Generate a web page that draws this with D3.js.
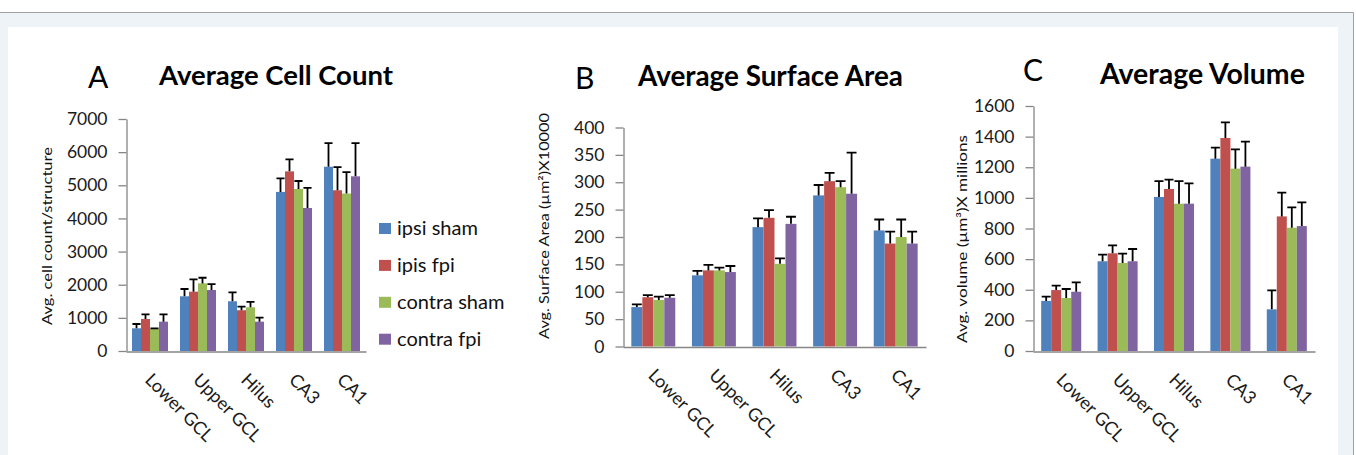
<!DOCTYPE html>
<html><head><meta charset="utf-8">
<script src="https://cdn.jsdelivr.net/npm/d3@7"></script>
<style>
html,body{margin:0;padding:0;background:#fff;overflow:hidden;}
svg{display:block;font-family:Lato,"Open Sans",sans-serif;}
</style></head><body>
<svg id="chart" width="1356" height="455"></svg>
<script>
// ---------------- data ----------------
const categories = ["Lower GCL", "Upper GCL", "Hilus", "CA3", "CA1"];
const seriesNames = ["ipsi sham", "ipis fpi", "contra sham", "contra fpi"];
const seriesColors = ["#4f81bd", "#c0504d", "#9bbb59", "#8064a2"];

// Panel A: average cell count (one array per series, across categories)
const cellMeans = [
  [685, 1650, 1500, 4800, 5560],   // ipsi sham
  [965, 1790, 1230, 5420, 4850],   // ipis fpi
  [665, 2040, 1320, 4890, 4750],   // contra sham
  [885, 1840, 885, 4315, 5270]     // contra fpi
];
const cellErrors = [
  [130, 220, 270, 410, 710],
  [140, 370, 110, 360, 700],
  [15, 170, 160, 240, 650],
  [220, 180, 120, 605, 1000]
];
const cellTicks = [0, 1000, 2000, 3000, 4000, 5000, 6000, 7000];

// Panel B: average surface area
const areaMeans = [
  [72, 130, 218, 276, 212],
  [90, 139, 235, 302, 188],
  [85, 139, 151, 291, 200],
  [89, 136, 224, 279, 188]
];
const areaErrors = [
  [5, 8, 16, 19, 20],
  [4, 10, 14, 15, 22],
  [6, 5, 10, 11, 32],
  [5, 11, 13, 75, 22]
];
const areaTicks = [0, 50, 100, 150, 200, 250, 300, 350, 400];

// Panel C: average volume
const volMeans = [
  [327, 586, 1006, 1256, 272],
  [398, 638, 1058, 1391, 879],
  [346, 575, 962, 1191, 805],
  [387, 586, 962, 1204, 816]
];
const volErrors = [
  [28, 43, 104, 72, 124],
  [29, 52, 61, 102, 155],
  [59, 61, 148, 126, 133],
  [61, 80, 133, 163, 155]
];
const volTicks = [0, 200, 400, 600, 800, 1000, 1200, 1400, 1600];

// ---------------- layout ----------------
const panels = [
  { means: cellMeans, errors: cellErrors, ticks: cellTicks,
    title: "Average Cell Count", letter: "A",
    left: 126, right: 366, bottom: 351, top: 119, pad: 0.25,
    titleX: 159, titleY: 85, titleW: 234,
    letterX: 88, letterY: 88,
    yLabel: "Avg. cell count/structure", yLabelX: 47, yLabelY: 236, yLabelLen: 178 },
  { means: areaMeans, errors: areaErrors, ticks: areaTicks,
    title: "Average Surface Area", letter: "B",
    left: 623, right: 926, bottom: 346.5, top: 127.5, pad: 0.275,
    titleX: 638, titleY: 86, titleW: 265,
    letterX: 575, letterY: 89,
    yLabel: "Avg. Surface Area (\u00B5m\u00B2)X10000", yLabelX: 544, yLabelY: 226, yLabelLen: 226 },
  { means: volMeans, errors: volErrors, ticks: volTicks,
    title: "Average Volume", letter: "C",
    left: 1033, right: 1315, bottom: 351, top: 106, pad: 0.29,
    titleX: 1100, titleY: 84, titleW: 205,
    letterX: 1023, letterY: 81,
    yLabel: "Avg. volume (\u00B5m\u00B3)X millions", yLabelX: 962, yLabelY: 239, yLabelLen: 208 }
];

const svg = d3.select("#chart");

// frame / background
svg.append("rect").attr("x", 0).attr("y", 12.5).attr("width", 1353).attr("height", 443).attr("fill", "#eef3f7");
svg.append("rect").attr("x", 8).attr("y", 27).attr("width", 1330).attr("height", 430).attr("fill", "#ffffff");
svg.append("path").attr("d", "M0,12.5H1353.5V455").attr("fill", "none").attr("stroke", "#a0a0a0").attr("stroke-width", 1);

function fitWidth(sel, target) {
  const fs = parseFloat(sel.attr("font-size"));
  const w = sel.node().getComputedTextLength();
  if (w > 0) sel.attr("font-size", (fs * target / w).toFixed(2));
}

panels.forEach(p => {
  const g = svg.append("g");
  const x = d3.scaleBand().domain(categories).range([p.left, p.right])
    .paddingInner(p.pad).paddingOuter(p.pad / 2);
  const xs = d3.scaleBand().domain(d3.range(seriesNames.length)).range([0, x.bandwidth()]);
  const maxV = d3.max(p.ticks);
  const y = d3.scaleLinear().domain([0, maxV]).range([p.bottom, p.top]);

  // bars
  seriesNames.forEach((s, si) => {
    const sg = g.append("g");
    sg.selectAll("rect").data(categories).join("rect")
      .attr("x", c => x(c) + xs(si))
      .attr("y", (c, ci) => y(p.means[si][ci]))
      .attr("width", xs.bandwidth())
      .attr("height", (c, ci) => y(0) - y(p.means[si][ci]))
      .attr("fill", seriesColors[si]);
  });
  // error bars
  seriesNames.forEach((s, si) => {
    const eg = g.append("g").attr("stroke", "#000").attr("stroke-width", 1.8).attr("fill", "none");
    categories.forEach((c, ci) => {
      const cx = x(c) + xs(si) + xs.bandwidth() / 2;
      const m = p.means[si][ci], e = p.errors[si][ci];
      const cw = xs.bandwidth() * 0.9;
      eg.append("path").attr("d",
        `M${cx},${y(m)}V${y(m + e)}M${cx - cw / 2},${y(m + e)}H${cx + cw / 2}`);
    });
  });

  // y axis
  const ya = g.append("g").attr("transform", `translate(${p.left + 0.5},0)`)
    .call(d3.axisLeft(y).tickValues(p.ticks).tickSize(8).tickSizeOuter(0).tickPadding(11).tickFormat(d3.format("d")));
  ya.select(".domain").attr("stroke", "#868686").attr("stroke-width", 1.3);
  ya.selectAll(".tick line").attr("stroke", "#868686").attr("stroke-width", 1.3);
  ya.selectAll(".tick text").attr("font-size", 17.5).attr("fill", "#1a1a1a")
    .attr("font-family", "Lato, 'Open Sans', sans-serif");

  // x axis
  const xa = g.append("g").attr("transform", `translate(0,${p.bottom + 0.5})`)
    .call(d3.axisBottom(x).tickSize(0).tickSizeOuter(0).tickFormat(""));
  xa.select(".domain").attr("stroke", "#868686").attr("stroke-width", 1.3);
  xa.selectAll(".tick").remove();

  // category labels
  g.append("g").selectAll("text").data(categories).join("text")
    .attr("transform", c => `translate(${x(c) + x.bandwidth() / 2 - 6},${p.bottom + 30}) rotate(45)`)
    .attr("font-size", 18).attr("fill", "#1a1a1a").attr("text-anchor", "start")
    .text(c => c);

  // title
  const t = g.append("text").attr("x", p.titleX).attr("y", p.titleY)
    .attr("font-size", 26).attr("font-weight", "bold").attr("fill", "#000").text(p.title);
  fitWidth(t, p.titleW);

  // panel letter
  g.append("text").attr("x", p.letterX).attr("y", p.letterY)
    .attr("font-size", 30).attr("fill", "#000").text(p.letter);

  // y label
  g.append("text")
    .attr("transform", `translate(${p.yLabelX + 5},${p.yLabelY}) rotate(-90)`)
    .attr("text-anchor", "middle").attr("font-size", 14).attr("fill", "#111")
    .attr("textLength", p.yLabelLen).attr("lengthAdjust", "spacingAndGlyphs")
    .text(p.yLabel);
});

// legend
const lg = svg.append("g");
seriesNames.forEach((s, i) => {
  const yy = 223 + i * 36.9;
  lg.append("rect").attr("x", 379).attr("y", yy).attr("width", 12).attr("height", 11).attr("fill", seriesColors[i]);
  const t = lg.append("text").attr("x", 397).attr("y", yy + 12).attr("font-size", 18).attr("fill", "#111").text(s);
  if (i === 0) fitWidth(t, 81);
});
const lfs = lg.select("text").attr("font-size");
lg.selectAll("text").attr("font-size", lfs);
</script>
</body></html>
